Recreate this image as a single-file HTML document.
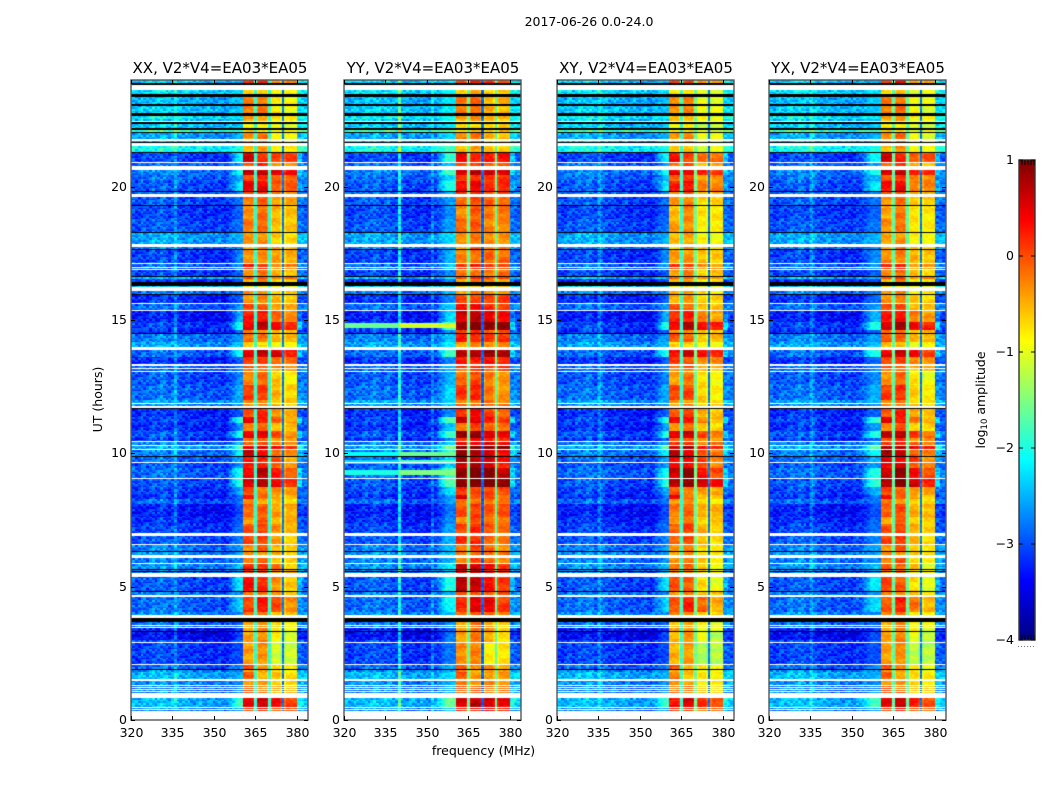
<!DOCTYPE html>
<html lang="en">
<head>
<meta charset="utf-8">
<title>2017-06-26 0.0-24.0</title>
<style>
html,body{margin:0;padding:0;background:#fff;}
#figure{position:relative;width:1050px;height:800px;background:#fff;overflow:hidden;font-family:"DejaVu Sans","Liberation Sans",sans-serif;}
#figure canvas{position:absolute;display:block;}
#overlay{position:absolute;left:0;top:0;}
#overlay text{font-family:"DejaVu Sans","Liberation Sans",sans-serif;fill:#000;}
</style>
</head>
<body>
<div id="figure">
<canvas id="heat-xx" width="177" height="640" style="left:131px;top:80px"></canvas>
<canvas id="heat-yy" width="177" height="640" style="left:344px;top:80px"></canvas>
<canvas id="heat-xy" width="177" height="640" style="left:557px;top:80px"></canvas>
<canvas id="heat-yx" width="177" height="640" style="left:769px;top:80px"></canvas>
<canvas id="cbar" width="16" height="480" style="left:1019px;top:160px"></canvas>
<svg id="overlay" width="1050" height="800" viewBox="0 0 1050 800">
<text x="589" y="26" text-anchor="middle" font-size="12.5">2017-06-26 0.0-24.0</text>
<text x="483.5" y="755" text-anchor="middle" font-size="12.5">frequency (MHz)</text>
<text transform="translate(102 399.5) rotate(-90)" text-anchor="middle" font-size="12.5">UT (hours)</text>
<text transform="translate(985 400) rotate(-90)" text-anchor="middle" font-size="12.5">log<tspan font-size="8.5" dy="2">10</tspan><tspan dy="-2"> amplitude</tspan></text>
</svg>
</div>
<script>
const W = 'white';
const K = 'black';

// Frequency categories (MHz) and the four passbands / notches
const bandStartMHz = [360.5, 365.5, 370.5, 375.5];
const bandEndMHz = [364.5, 369.5, 374.5, 380];
const notchStartMHz = [364.5, 369.5, 374.5];
const notchEndMHz = [365.5, 370.5, 375.5];

// Axis tick labels
const xTickLabels = [320, 335, 350, 365, 380];
const yTickLabels = [0, 5, 10, 15, 20];
const colorbarTicks = [1, 0, -1, -2, -3, -4];
const panelTitles = ['XX, V2*V4=EA03*EA05', 'YY, V2*V4=EA03*EA05', 'XY, V2*V4=EA03*EA05', 'YX, V2*V4=EA03*EA05'];
const panelKeys = ['xx', 'yy', 'xy', 'yx'];

// XX time rows: [UT start of row (hours), off-band, shoulder, band1, band2, band3, band4] in log10 amplitude
const xxRows = [
[24,-2.5,-2.5,.1,.2,-.2,-.3],
[23.906,K],
[23.831,W],
[23.625,-2.4,-2.3,-.7,-.6,-.9,-.9],
[23.475,K],
[23.374,-2.6,-2.4,-.2,-.2,-.8,-.85],
[23.1,K],
[23.036,-2.5,-2.4,-.25,-.2,-.75,-.9],
[22.763,K],
[22.65,-2.3,-2.2,-.4,-.4,-.7,-.8],
[22.575,W],
[22.519,-2.5,-2.4,-.5,-.5,-.8,-.9],
[22.481,W],
[22.425,K],
[22.35,-2.5,-2.4,-.8,-.8,-1,-1],
[22.189,K],
[22.125,-1.9,-1.8,-.7,-.7,-.9,-.9],
[22.061,K],
[22.001,-2.7,-2.5,-.3,-.2,-.8,-.9],
[21.776,W],
[21.724,-2.6,-2.5,-.3,-.2,-.8,-.9],
[21.675,K],
[21.638,W],
[21.525,-2.2,-2,-.5,-.4,-.8,-.8],
[21.3,K],
[21.274,-3.2,-2.1,.55,.2,.1,.1],
[20.914,W],
[20.876,-3,-2.6,0,.15,-.3,-.3],
[20.775,W],
[20.625,-2.9,-2,.65,.7,.5,.35],
[20.426,-3,-2.5,.1,.2,-.1,-.1],
[20.213,-3.1,-2.2,.45,.45,0,-.05],
[19.849,K],
[19.811,-3,-2.7,0,.1,-.3,-.3],
[19.725,W],
[19.613,-3.1,-2.8,-.2,-.1,-.4,-.45],
[19.301,K],
[19.275,-3.2,-2.9,-.35,-.15,-.5,-.55],
[18.825,W],
[18.788,-3.1,-2.8,-.2,-.15,-.55,-.6],
[18.311,K],
[18.251,-2.7,-2.5,-.35,-.3,-.6,-.7],
[17.85,W],
[17.749,-2.9,-2.7,-.6,-.2,-.5,-.6],
[17.651,K],
[17.614,-3.2,-2.7,-.3,-.3,-.4,-.5],
[17.138,W],
[17.089,-3,-2.6,.2,.15,-.2,-.3],
[16.999,W],
[16.961,-3,-2.6,.1,.1,-.3,-.3],
[16.913,W],
[16.875,-3.2,-2.9,-.3,-.2,-.5,-.5],
[16.65,K],
[16.601,-2.6,-2.5,0,0,-.2,-.2],
[16.549,-3.3,-3,-.5,-.3,-.6,-.7],
[16.436,K],
[16.275,-2.5,-2.4,-.7,-.7,-.9,-.9],
[16.226,W],
[16.088,-2.9,-2.7,-.4,-.3,-.6,-.7],
[15.964,K],
[15.926,-3.3,-2.9,-.35,-.3,-.5,-.55],
[15.626,W],
[15.589,-3,-2.6,.05,-.05,-.4,-.5],
[15.375,W],
[15.338,-3.4,-2.5,.25,.3,-.1,-.3],
[14.936,-3.2,-2,.45,.7,.4,.25],
[14.625,-3.3,-2.9,-.3,-.3,-.6,-.6],
[14.501,K],
[14.464,-2.9,-2.6,-.1,-.2,-.5,-.5],
[14.175,-2.7,-2.4,-.7,-.7,-.9,-.9],
[13.999,W],
[13.875,-3,-2,.5,.65,.55,.3],
[13.624,-3.3,-2.9,.15,.05,-.1,-.2],
[13.339,W],
[13.286,-3,-2.7,0,0,-.3,-.3],
[13.211,W],
[13.174,-3,-2.7,-.3,-.2,-.5,-.5],
[13.088,W],
[13.05,-3.1,-2.7,-.3,-.15,-.6,-.8],
[12.611,W],
[12.574,-3,-2.5,.1,.1,-.5,-.7],
[12,-2.7,-2.5,-.3,-.3,-.5,-.6],
[11.899,W],
[11.861,-2.8,-2.6,-.3,-.3,-.5,-.6],
[11.775,W],
[11.738,W],
[11.7,K],
[11.663,-3.3,-2.9,0,.2,-.3,-.5],
[11.351,-3.2,-1.9,.5,.3,-.1,-.4],
[11.126,-3.3,-2.6,-.3,-.1,-.5,-.6],
[10.849,-3.1,-2,.45,.5,0,-.3],
[10.564,-3.3,-2.9,-.2,-.1,-.4,-.5],
[10.451,W],
[10.414,-2.9,-2.5,0,0,-.2,-.3],
[10.313,W],
[10.275,-2.7,-1.7,.5,.55,.3,.2],
[10.151,W],
[10.114,-2.9,-2.1,.6,.35,-.1,-.3],
[9.9,K],
[9.863,-3,-2.5,.3,.2,0,-.4],
[9.686,W],
[9.649,-3.1,-2.6,.2,.25,-.1,-.45],
[9.439,-3,-2,.45,.75,.3,-.1],
[9.075,W],
[9.026,-3.1,-1.9,.55,.7,.5,.2],
[8.726,-3.2,-2.5,0,-.2,-.3,-.4],
[8.438,-3.3,-2.8,.4,-.2,-.4,-.6],
[8.276,-3,-2.8,-.3,-.4,-.6,-.7],
[8.126,W],
[8.1,-3.4,-3,-.15,-.1,-.4,-.45],
[7.624,-3.3,-2.9,-.35,-.1,-.5,-.5],
[7.35,-3.2,-2.8,0,.1,-.3,-.5],
[7.024,W],
[6.911,-3.1,-2.7,.05,.05,-.4,-.6],
[6.6,W],
[6.563,-2.9,-2.6,-.3,-.1,-.5,-.7],
[6.326,K],
[6.289,-2.8,-2.6,-.3,-.3,-.5,-.6],
[6.225,W],
[6.064,-2.9,-2.7,-.3,-.1,-.5,-.7],
[5.899,W],
[5.85,-2.8,-2.4,.2,.15,-.2,-.6],
[5.674,K],
[5.625,-2.9,-2.6,.1,.1,-.3,-.5],
[5.576,K],
[5.539,-2.9,-2.6,0,0,-.3,-.5],
[5.501,W],
[5.374,-3.1,-2.2,.35,.2,-.3,-.6],
[4.826,K],
[4.789,-2.9,-2.7,-.2,-.2,-.4,-.5],
[4.725,W],
[4.624,-3,-2.3,.05,.3,.05,-.35],
[4.061,K],
[4.039,-2.8,-2.7,-.2,-.2,-.5,-.6],
[3.964,W],
[3.825,K],
[3.686,-3,-2.9,-.5,-.3,-.7,-.9],
[3.574,W],
[3.536,-2.9,-2.8,-.5,-.3,-.7,-.9],
[3.499,W],
[3.45,-3.4,-3.1,-.4,-.3,-.7,-.95],
[3.338,K],
[3.3,-3.5,-3,-.45,-.3,-.8,-1.1],
[3.026,W],
[2.989,-3.2,-2.9,-.4,-.3,-.8,-1.1],
[2.936,W],
[2.899,-3.2,-3,-.4,-.35,-1.1,-1.1],
[2.126,W],
[2.051,-3,-2.7,0,-.4,-.6,-.8],
[1.924,K],
[1.864,-2.8,-2.7,-.3,-.5,-.7,-.8],
[1.811,-2.6,-2.5,-.1,-.5,-.6,-.7],
[1.538,W],
[1.474,-2.8,-2.7,-.3,-.4,-.6,-.7],
[1.339,-2.8,-2.7,-.3,-.4,-.6,-.7],
[1.313,W],
[1.275,-2.9,-2.7,-.1,-.2,-.5,-.6],
[1.238,W],
[1.2,-2.9,-2.7,-.1,-.2,-.5,-.6],
[1.163,W],
[1.125,-2.9,-2.7,-.1,-.2,-.5,-.6],
[1.088,W],
[1.05,-2.9,-2.7,-.1,-.2,-.5,-.6],
[1.013,W],
[.825,-2.6,-1.8,.45,.6,.35,.1],
[.499,W],
[.464,-2.8,-2.5,.2,.3,.1,0],
[.413,W],
[.375,-2.9,-2.6,.1,.1,0,-.1],
[.338,W]
];

// In-band lift per hour of UT, relative to XX
const yyHourLift = [0,0,0,0,.1,.35,.05,0,.1,.4,.35,.1,0,.1,.3,.3,0,0,0,0,-.1,-.1,0,0];
const xyHourLift = [0,0,0,0,0,-.25,0,0,.05,.25,.2,0,0,0,.1,0,0,0,-.1,-.1,-.1,-.1,0,0];
const yxHourLift = [0,0,0,0,-.1,-.3,0,-.05,.05,.2,.2,0,0,-.05,.1,0,0,0,-.1,-.1,-.1,0,0,0];
const xxHourLift = [0,0,0,0,0,0,0,0,0,0,0,0,0,0,0,0,0,0,0,0,0,0,0,0];

// Per-band tilt relative to XX
const xxBandTilt = [0,0,0,0];
const yyBandTilt = [.05,.1,.3,.35];
const xyBandTilt = [-.1,-.05,-.15,-.1];
const yxBandTilt = [0,.05,-.1,-.1];

// Level inside the RFI notches at 365, 370, 375 MHz
const xxNotch = [-1.9,-1.9,-2.8];
const yyNotch = [-1.7,-2.9,-1.7];
const xyNotch = [-1.9,-1.6,-2.8];
const yxNotch = [-1.7,-1.7,-2.8];

// Frequency where the shoulder starts rising (MHz)
const xxShoulderStart = [354.5];
const yyShoulderStart = [352.5];
const xyShoulderStart = [354.5];
const yxShoulderStart = [352.5];

// Persistent narrow RFI lines
const xxRfiMHz = [336];
const xxRfiBoost = [.25];
const yyRfiMHz = [340, 352];
const yyRfiBoost = [.9, .3];
const xyRfiMHz = [335.5];
const xyRfiBoost = [.25];
const yxRfiMHz = [335.5];
const yxRfiBoost = [.25];

// Broadband streaks seen in YY
const yyStreakUT = [14.8, 10.0, 9.7, 9.3];
const yyStreakLevel = [-1.1, -1.6, -1.8, -1.5];

// Off-band ripple per 1-MHz channel from 320 MHz
const channelRipple = [.1,.15,.05,.1,.2,.15,.1,.2,.25,.15,.2,.3,.25,.2,.1,.2,.25,.15,.1,.05,.1,.15,.05,0,.05,.1,0,-.05,.05,0,-.05,0,.05,-.05,-.1,-.05,0,-.05,-.1,0,0,0,0,0,0,0,0,0,0,0,0,0,0,0,0,0,0,0,0,0,.1,.05,.1,.05];

// Pixel-to-pixel speckle residuals
const speckle = [.12,-.21,.05,.28,-.09,-.3,.17,.02,-.14,.33,-.24,.08,-.03,.21,-.18,.11,-.27,.36,-.06,.14,-.33,.03,.24,-.12,-.19,.09,.3,-.02,-.25,.16,-.08,.19,-.35,.06,.26,-.16,.01];

// Slow in-band striping along time
const bandRowRipple = [.06,.1,.08,.01,-.05,-.09,-.11,-.06,.01,.05,.09,.04,-.02,-.08,-.04,.03];

const panelLeftOf = {xx:131, yy:344, xy:557, yx:769};
const hourLiftOf = {xx:xxHourLift, yy:yyHourLift, xy:xyHourLift, yx:yxHourLift};
const tiltOf = {xx:xxBandTilt, yy:yyBandTilt, xy:xyBandTilt, yx:yxBandTilt};
const notchOf = {xx:xxNotch, yy:yyNotch, xy:xyNotch, yx:yxNotch};
const shoulderOf = {xx:xxShoulderStart, yy:yyShoulderStart, xy:xyShoulderStart, yx:yxShoulderStart};
const rfiOf = {xx:[xxRfiMHz,xxRfiBoost], yy:[yyRfiMHz,yyRfiBoost], xy:[xyRfiMHz,xyRfiBoost], yx:[yxRfiMHz,yxRfiBoost]};

// Axis functions (relative to the panel's plot area)
function xScale(f){ return (f - 320) * (177 / 64); }
function yScale(ut){ return (24 - ut) * (640 / 24); }
function cbarScale(v){ return (1 - v) * (480 / 5); }

function jet(v){
  const t = Math.max(0, Math.min(1, (v + 4) / 5));
  const c = x => Math.round(255 * Math.max(0, Math.min(1, x)));
  const r = c(Math.min(4 * t - 1.5, -4 * t + 4.5));
  const g = c(Math.min(4 * t - 0.5, -4 * t + 3.5));
  const b = c(Math.min(4 * t + 0.5, -4 * t + 2.5));
  return 'rgb(' + r + ',' + g + ',' + b + ')';
}

function levelAt(row, f, key, sub, pIdx){
  const off = row[1], sh = row[2];
  const ch = Math.floor(f + 0.5) - 320;
  const noise = speckle[Math.abs(ch * 7 + sub * 13 + pIdx * 11) % speckle.length];
  const ut = row[0];
  const hour = Math.min(23, Math.max(0, Math.floor(ut)));
  const lift = hourLiftOf[key][hour];
  for (let i = 0; i < notchStartMHz.length; i++) {
    if (f >= notchStartMHz[i] && f < notchEndMHz[i]) return notchOf[key][i] + noise * .4;
  }
  for (let i = 0; i < bandStartMHz.length; i++) {
    if (f >= bandStartMHz[i] && f < bandEndMHz[i]) {
      let v = row[3 + i] + tiltOf[key][i] + lift + noise * .3;
      v += bandRowRipple[Math.abs(sub + i * 3 + pIdx * 5) % bandRowRipple.length];
      if ((i > 0 && f < bandStartMHz[i] + .5) || (i < 3 && f + .5 >= bandEndMHz[i])) v -= .2;
      return v;
    }
  }
  const ripple = channelRipple[Math.max(0, Math.min(channelRipple.length - 1, ch))];
  if (f >= 380) {
    const edge = f < 382 ? Math.max(off + .25, sh - .35) : off + .2;
    return edge + ripple + noise * .9;
  }
  const start = shoulderOf[key][0];
  if (f >= start) {
    const t = Math.min(1, (f - start) / 4.5);
    return off + (Math.max(off, sh + (key === 'yy' ? .2 : 0)) - off) * t + noise * (1 - .5 * t);
  }
  let v = off + ripple + noise;
  const rfi = rfiOf[key];
  for (let i = 0; i < rfi[0].length; i++) {
    if (Math.abs(f + .25 - rfi[0][i]) <= .25) v += rfi[1][i];
  }
  return v;
}

function streakAt(key, ut, f){
  if (key !== 'yy' || f >= 360.5) return -9;
  let best = -9;
  for (let i = 0; i < yyStreakUT.length; i++) {
    if (Math.abs(ut - yyStreakUT[i]) < .09) best = Math.max(best, yyStreakLevel[i] - (f < 340 ? .5 : 0));
  }
  return best;
}

function drawHeatmap(key, pIdx){
  const ctx = document.getElementById('heat-' + key).getContext('2d');
  ctx.fillStyle = '#fff';
  ctx.fillRect(0, 0, 177, 640);
  const step = 0.0625, fStep = 0.5;
  xxRows.forEach(function(row, i){
    const top = row[0];
    const bottom = i + 1 < xxRows.length ? xxRows[i + 1][0] : 0;
    if (row[1] === W) return;
    const y0 = Math.round(yScale(top)), y1 = Math.round(yScale(bottom));
    if (row[1] === K) {
      ctx.fillStyle = '#000';
      ctx.fillRect(0, y0, 177, Math.max(1, y1 - y0));
      return;
    }
    for (let ut = top; ut > bottom + 1e-6; ut -= step) {
      const a = Math.round(yScale(ut));
      const b = Math.max(a + 1, Math.round(yScale(Math.max(bottom, ut - step))));
      const sub = Math.floor(ut / step);
      for (let f = 320; f < 384; f += fStep) {
        let v = levelAt(row, f, key, sub, pIdx);
        v = Math.max(v, streakAt(key, ut, f));
        ctx.fillStyle = jet(v);
        const xa = Math.round(xScale(f));
        const xb = Math.round(xScale(f + fStep));
        ctx.fillRect(xa, a, xb - xa, b - a);
      }
    }
  });
}

panelKeys.forEach(drawHeatmap);

// Colorbar
(function(){
  const ctx = document.getElementById('cbar').getContext('2d');
  for (let v = 1; v > -4; v -= 5 / 480) {
    ctx.fillStyle = jet(v);
    ctx.fillRect(0, Math.round(cbarScale(v)), 16, 2);
  }
})();

// SVG axes
const svgNS = 'http://www.w3.org/2000/svg';
const overlay = document.getElementById('overlay');
function addLine(x1, y1, x2, y2, color, width){
  const l = document.createElementNS(svgNS, 'line');
  l.setAttribute('x1', x1);
  l.setAttribute('y1', y1);
  l.setAttribute('x2', x2);
  l.setAttribute('y2', y2);
  l.setAttribute('stroke', color);
  l.setAttribute('stroke-width', width);
  
  
  overlay.appendChild(l);
  return l;
}
function addText(x, y, str, size, anchor){
  const t = document.createElementNS(svgNS, 'text');
  t.setAttribute('x', x);
  t.setAttribute('y', y);
  t.setAttribute('font-size', size);
  t.setAttribute('text-anchor', anchor);
  t.textContent = str;
  
  
  overlay.appendChild(t);
  return t;
}

panelKeys.forEach(function(key, p){
  const left = panelLeftOf[key];
  const top = 80;
  const frame = document.createElementNS(svgNS, 'rect');
  frame.setAttribute('x', left);
  frame.setAttribute('y', top);
  frame.setAttribute('width', 177);
  frame.setAttribute('height', 640);
  frame.setAttribute('fill', 'none');
  frame.setAttribute('stroke', '#555');
  frame.setAttribute('stroke-width', 1.4);
  
  
  overlay.appendChild(frame);
  xTickLabels.forEach(function(tick){
    const x = left + Math.round(xScale(tick)) + .5;
    addLine(x, top, x, top + 4, '#000', 1);
    addLine(x, top + 640, x, top + 636, '#000', 1);
    addText(x, 737, String(tick), 12.5, 'middle');
  });
  yTickLabels.forEach(function(tick){
    const y = top + Math.round(yScale(tick)) + .5;
    addLine(left, y, left + 4, y, '#000', 1);
    addLine(left + 177, y, left + 173, y, '#000', 1);
    addText(left - 4, y + 3.5, String(tick), 12.5, 'end');
  });
  const title = addText(left + 89, 73, panelTitles[p], 15, 'middle');
  
});

const cbarFrame = document.createElementNS(svgNS, 'rect');
cbarFrame.setAttribute('x', 1019);
cbarFrame.setAttribute('y', 160);
cbarFrame.setAttribute('width', 16);
cbarFrame.setAttribute('height', 480);
cbarFrame.setAttribute('fill', 'none');
cbarFrame.setAttribute('stroke', '#333');
cbarFrame.setAttribute('stroke-width', 1.4);


overlay.appendChild(cbarFrame);
colorbarTicks.forEach(function(v){
  const y = 160 + cbarScale(v);
  addLine(1019, y, 1023, y, '#000', 1);
  addLine(1035, y, 1031, y, '#000', 1);
  addText(1014, y + 4, (v < 0 ? '\u2212' : '') + Math.abs(v), 12.5, 'end');
});
[1022, 1025, 1028, 1031, 1034].forEach(function(x){
  addLine(x, 160, x, 165, '#000', 1);
  addLine(x, 640, x, 635, '#000', 1);
});
const dots = addLine(1018, 646.5, 1036, 646.5, '#777', 1);
dots.setAttribute('stroke-dasharray', '1 2');

</script>
</body>
</html>
